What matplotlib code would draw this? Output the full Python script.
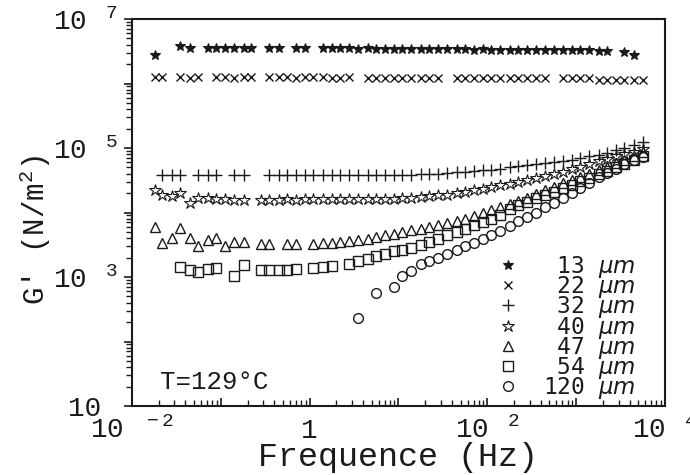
import numpy as np
import matplotlib
matplotlib.use("Agg")
import matplotlib.pyplot as plt
from matplotlib.ticker import LogLocator, FuncFormatter, NullFormatter

nan = np.nan

# frequencies (Hz) shared by all the samples
freq = [0.018, 0.022, 0.028, 0.035, 0.045, 0.056, 0.071, 0.089, 0.11, 0.14,
        0.18, 0.22, 0.28, 0.35, 0.45, 0.56, 0.71, 0.89, 1.1, 1.4,
        1.8, 2.2, 2.8, 3.5, 4.5, 5.6, 7.1, 8.9, 11, 14,
        18, 22, 28, 35, 45, 56, 71, 89, 110, 140,
        180, 220, 280, 350, 450, 560, 710, 890, 1100, 1400,
        1800, 2200, 2800, 3500, 4500, 5600]

# G' (N/m2) for each particle size
g13 = [2.8e6, nan, nan, 3.8e6, 3.6e6, nan, 3.6e6, 3.5e6, 3.6e6, 3.5e6,
       3.6e6, 3.5e6, nan, 3.5e6, 3.5e6, nan, 3.5e6, 3.5e6, nan, 3.5e6,
       3.5e6, 3.5e6, 3.5e6, 3.45e6, 3.5e6, 3.45e6, 3.45e6, 3.45e6, 3.4e6, 3.45e6,
       3.4e6, 3.4e6, 3.4e6, 3.4e6, 3.4e6, 3.4e6, 3.35e6, 3.4e6, 3.35e6, 3.35e6,
       3.35e6, 3.35e6, 3.3e6, 3.3e6, 3.3e6, 3.3e6, 3.3e6, 3.3e6, 3.25e6, 3.25e6,
       3.2e6, 3.2e6, nan, 3.1e6, 2.8e6, nan]
g22 = [1.25e6, 1.25e6, nan, 1.25e6, 1.2e6, 1.25e6, nan, 1.25e6, 1.25e6, 1.2e6,
       1.25e6, 1.25e6, nan, 1.25e6, 1.25e6, 1.25e6, 1.2e6, 1.25e6, 1.25e6, 1.25e6,
       1.2e6, 1.2e6, 1.25e6, nan, 1.2e6, 1.2e6, 1.2e6, 1.2e6, 1.2e6, 1.2e6,
       1.2e6, 1.2e6, 1.2e6, nan, 1.2e6, 1.2e6, 1.2e6, 1.2e6, 1.2e6, 1.2e6,
       1.2e6, 1.2e6, 1.2e6, 1.2e6, 1.2e6, nan, 1.2e6, 1.2e6, 1.2e6, 1.2e6,
       1.15e6, 1.15e6, 1.15e6, 1.15e6, 1.15e6, 1.15e6]
g32 = [nan, 3.8e4, 3.8e4, 3.8e4, nan, 3.8e4, 3.8e4, 3.8e4, nan, 3.8e4,
       3.8e4, nan, nan, 3.8e4, 3.8e4, 3.8e4, 3.8e4, 3.8e4, 3.8e4, 3.8e4,
       3.8e4, 3.8e4, 3.8e4, 3.8e4, 3.8e4, 3.8e4, 3.8e4, 3.8e4, 3.8e4, 3.85e4,
       3.9e4, 3.95e4, 4.0e4, 4.1e4, 4.2e4, 4.3e4, 4.4e4, 4.5e4, 4.6e4, 4.8e4,
       5.0e4, 5.2e4, 5.4e4, 5.6e4, 5.8e4, 6.0e4, 6.3e4, 6.6e4, 7.0e4, 7.4e4,
       7.9e4, 8.5e4, 9.2e4, 1.0e5, 1.1e5, 1.25e5]
g40 = [2.2e4, 1.9e4, 1.8e4, 2.0e4, 1.4e4, 1.7e4, 1.65e4, 1.6e4, 1.6e4, 1.55e4,
       1.55e4, nan, 1.55e4, 1.55e4, 1.55e4, 1.6e4, 1.55e4, 1.6e4, 1.6e4, 1.6e4,
       1.6e4, 1.6e4, 1.6e4, 1.6e4, 1.6e4, 1.6e4, 1.6e4, 1.6e4, 1.65e4, 1.7e4,
       1.75e4, 1.8e4, 1.85e4, 1.9e4, 2.0e4, 2.1e4, 2.2e4, 2.35e4, 2.5e4, 2.65e4,
       2.8e4, 3.0e4, 3.2e4, 3.4e4, 3.7e4, 4.0e4, 4.3e4, 4.7e4, 5.1e4, 5.6e4,
       6.2e4, 6.8e4, 7.4e4, 8.0e4, 8.7e4, 9.5e4]
g47 = [6.0e3, 3.4e3, 4.0e3, 5.8e3, 4.0e3, 3.0e3, 3.8e3, 4.0e3, 3.0e3, 3.5e3,
       3.5e3, nan, 3.3e3, 3.3e3, nan, 3.3e3, 3.3e3, nan, 3.3e3, 3.35e3,
       3.4e3, 3.5e3, 3.6e3, 3.7e3, 3.9e3, 4.1e3, 4.4e3, 4.7e3, 5.0e3, 5.3e3,
       5.6e3, 6.0e3, 6.4e3, 6.8e3, 7.4e3, 8.0e3, 8.8e3, 9.8e3, 1.1e4, 1.22e4,
       1.35e4, 1.5e4, 1.7e4, 1.95e4, 2.2e4, 2.5e4, 2.85e4, 3.2e4, 3.6e4, 4.0e4,
       4.5e4, 5.1e4, 5.8e4, 6.6e4, 7.6e4, 8.8e4]
g54 = [nan, nan, nan, 1.45e3, 1.3e3, 1.2e3, 1.35e3, 1.4e3, nan, 1.05e3,
       1.55e3, nan, 1.3e3, 1.3e3, 1.3e3, 1.3e3, 1.35e3, nan, 1.4e3, 1.45e3,
       1.5e3, nan, 1.6e3, 1.75e3, 1.9e3, 2.1e3, 2.3e3, 2.5e3, 2.6e3, 2.8e3,
       3.1e3, 3.5e3, 3.9e3, 4.4e3, 5.0e3, 5.6e3, 6.3e3, 7.1e3, 8.0e3, 9.0e3,
       1.15e4, 1.3e4, 1.47e4, 1.66e4, 1.88e4, 2.1e4, 2.4e4, 2.7e4, 3.05e4, 3.45e4,
       3.9e4, 4.4e4, 5.0e4, 5.7e4, 6.5e4, 7.5e4]
g120 = [nan, nan, nan, nan, nan, nan, nan, nan, nan, nan,
        nan, nan, nan, nan, nan, nan, nan, nan, nan, nan,
        nan, nan, nan, 230, nan, 560, nan, 700, 1.05e3, 1.25e3,
        1.6e3, 1.8e3, 2.0e3, 2.3e3, 2.6e3, 3.0e3, 3.4e3, 3.9e3, 4.5e3, 5.2e3,
        6.2e3, 7.3e3, 8.6e3, 1.0e4, 1.2e4, 1.4e4, 1.7e4, 2.0e4, 2.4e4, 2.9e4,
        3.5e4, 4.1e4, 4.8e4, 5.6e4, 6.5e4, 7.3e4]

sizes = [13, 22, 32, 40, 47, 54, 120]
series = [g13, g22, g32, g40, g47, g54, g120]

plt.rcParams['font.family'] = ['Liberation Mono', 'DejaVu Sans Mono']
plt.rcParams['mathtext.fontset'] = 'custom'
plt.rcParams['mathtext.rm'] = 'Liberation Mono'
plt.rcParams['mathtext.it'] = 'DejaVu Sans:italic'
plt.rcParams['mathtext.bf'] = 'Liberation Mono:bold'
plt.rcParams['mathtext.default'] = 'regular'

ink = '#1a1a1a'

# marker style for each size: marker, size, filled?, edge width
styles = [('*', 7, True, 0.8),
          ('x', 6, False, 1.0),
          ('+', 9, False, 1.0),
          ('*', 9, False, 0.8),
          ('^', 7, False, 1.0),
          ('s', 7, False, 1.0),
          ('o', 7, False, 1.0)]

fig = plt.figure(figsize=(6.9, 4.75), dpi=100)
ax = fig.add_axes([132 / 690, 69 / 475, 533 / 690, 387 / 475])

for n, g, (m, ms, filled, mew) in zip(sizes, series, styles):
    ax.plot(freq, g, linestyle='none', marker=m, markersize=ms,
            markerfacecolor=ink if filled else 'none', markeredgecolor=ink,
            markeredgewidth=mew, label=f"{n:>3} " + r"$\mathit{\mu m}$")

ax.set_xscale('log')
ax.set_yscale('log')
ax.set_xlim(1e-2, 1e4)
ax.set_ylim(1e1, 1e7)

ax.xaxis.set_major_locator(LogLocator(base=10, numticks=20))
ax.yaxis.set_major_locator(LogLocator(base=10, numticks=20))
ax.xaxis.set_minor_locator(LogLocator(base=10, subs=np.arange(2, 10), numticks=20))
ax.yaxis.set_minor_locator(LogLocator(base=10, subs=np.arange(2, 10), numticks=20))
ax.xaxis.set_minor_formatter(NullFormatter())
ax.yaxis.set_minor_formatter(NullFormatter())


def xfmt(v, pos):
    e = int(round(np.log10(v)))
    if e % 2:
        return ''
    if e == 0:
        return '1'
    return r'$\mathrm{10}^{\quad %d}$' % e


def yfmt(v, pos):
    e = int(round(np.log10(v)))
    if e % 2 == 0:
        return ''
    if e == 1:
        return '10 '
    return r'$\mathrm{10}^{\quad %d}$' % e


ax.xaxis.set_major_formatter(FuncFormatter(xfmt))
ax.yaxis.set_major_formatter(FuncFormatter(yfmt))

ax.tick_params(axis='x', which='both', direction='in', labelsize=20, colors=ink, pad=23)
ax.tick_params(axis='x', which='major', length=6, width=1.2)
ax.tick_params(axis='x', which='minor', length=4, width=1.0)
ax.tick_params(axis='y', which='both', direction='out', labelsize=20, colors=ink, pad=4)
ax.tick_params(axis='y', which='major', length=6, width=1.2)
ax.tick_params(axis='y', which='minor', length=4, width=1.0)
# x tick labels share one baseline, as in the original
plt.setp(ax.get_xticklabels(), va='baseline')

for s in ax.spines.values():
    s.set_linewidth(1.5)
    s.set_color(ink)

ax.set_xlabel('Frequence (Hz)', fontsize=24, color=ink)
ax.xaxis.set_label_coords(0.5, -0.093)
ax.set_ylabel("G' (N/m$^{2}$)", fontsize=21, color=ink)
ax.yaxis.set_label_coords(-0.148, 0.455)

ax.text(0.0525, 0.062, 'T=129°C', transform=ax.transAxes, fontsize=18.5,
        color=ink, va='center', ha='left')

leg = ax.legend(loc='lower right', bbox_to_anchor=(0.944, 0.012), frameon=False,
                prop={'family': 'DejaVu Sans Mono', 'size': 16.5},
                labelspacing=-0.25, handletextpad=1.0,
                handlelength=1.0, borderpad=0.0, borderaxespad=0.0)
for t in leg.get_texts():
    t.set_color(ink)

fig.savefig('out.png', dpi=100)
